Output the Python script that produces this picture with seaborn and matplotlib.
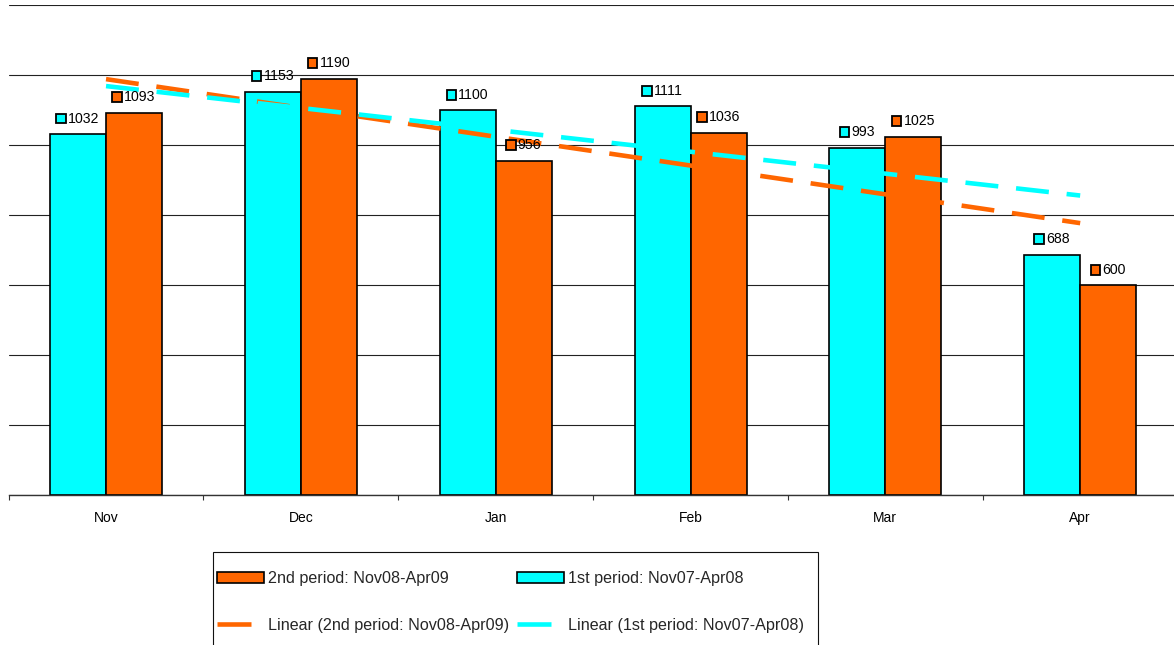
import numpy as np
import pandas as pd
import matplotlib
matplotlib.use("Agg")
import matplotlib.pyplot as plt
from matplotlib.lines import Line2D
from matplotlib.patches import Rectangle
from matplotlib.offsetbox import AnnotationBbox, DrawingArea, HPacker, TextArea
from matplotlib.ticker import FixedLocator
import seaborn as sns

# Monthly totals for the two winter periods
months = ["Nov", "Dec", "Jan", "Feb", "Mar", "Apr"]
first_period = [1032, 1153, 1100, 1111, 993, 688]
second_period = [1093, 1190, 956, 1036, 1025, 600]
first_label = "1st period: Nov07-Apr08"
second_label = "2nd period: Nov08-Apr09"
y_ticks = [0, 200, 400, 600, 800, 1000, 1200, 1400]

CYAN = "#00FFFF"
ORANGE = "#FF6600"
TREND_LW = 3.3

sns.set_theme(style="white")
plt.rcParams["font.family"] = ["Liberation Sans", "DejaVu Sans"]

df = pd.DataFrame({
    "month": months * 2,
    "value": first_period + second_period,
    "period": [first_label] * len(months) + [second_label] * len(months),
})

W, H = 1174, 645
fig = plt.figure(figsize=(W / 100, H / 100), dpi=100)
ax = fig.add_axes([8.6 / W, 1 - 495.3 / H, 1169 / W, 490 / H])

sns.barplot(
    data=df, x="month", y="value", hue="period",
    order=months, hue_order=[first_label, second_label],
    palette=[CYAN, ORANGE], saturation=1, width=0.575,
    edgecolor="black", linewidth=1.2, errorbar=None,
    legend=False, ax=ax, zorder=2,
)
bars_first, bars_second = ax.containers[0], ax.containers[1]

# Linear trend lines across the month positions
pos = np.arange(len(months))
for vals, color in [(second_period, ORANGE), (first_period, CYAN)]:
    sns.regplot(
        x=pos, y=vals, ax=ax, scatter=False, ci=None, truncate=True,
        line_kws=dict(color=color, lw=TREND_LW, dashes=(7.2, 3.9), zorder=3),
    )

ax.set_xlim(-0.5, len(months) - 0.5)
ax.set_ylim(y_ticks[0], y_ticks[-1])
ax.set_xlabel("")
ax.set_ylabel("")

# Category labels centred, tick marks on the category boundaries
ax.set_xticks(pos)
ax.set_xticklabels(months)
ax.xaxis.set_minor_locator(FixedLocator(np.arange(-0.5, len(months), 1.0)))
ax.tick_params(axis="x", which="major", length=0, pad=11, labelsize=10, labelcolor="black")
ax.tick_params(axis="x", which="minor", bottom=True, length=3.6, width=0.8,
               color="#333333", direction="out")
ax.set_yticks(y_ticks)
ax.set_yticklabels([])
ax.tick_params(axis="y", length=0)
ax.yaxis.grid(True, color="#222222", lw=0.8)
ax.set_axisbelow(True)
for side in ["left", "right", "top"]:
    ax.spines[side].set_visible(False)
ax.spines["bottom"].set_color("#333333")
ax.spines["bottom"].set_linewidth(1.0)

# Value labels with a small colour key in front of each number
for container in ax.containers:
    face = container.patches[0].get_facecolor()
    for bar in container:
        x = bar.get_x() + bar.get_width() / 2
        h = bar.get_height()
        key = DrawingArea(7, 7, 0, 0)
        key.add_artist(Rectangle((0, 0), 7, 7, facecolor=face, edgecolor="black", lw=1.3))
        txt = TextArea(f"{h:.0f}", textprops=dict(fontsize=10.2, color="black"))
        pack = HPacker(children=[key, txt], align="center", pad=0, sep=1.5)
        ab = AnnotationBbox(pack, (x, h), xybox=(0, 11.2), xycoords="data",
                            boxcoords="offset points", frameon=False,
                            box_alignment=(0.5, 0.5), zorder=4)
        ax.add_artist(ab)

# Legend below the plot; trend keys are short single dashes
def trend_key(color):
    return Line2D([], [], color=color, lw=TREND_LW, dashes=(34 * 0.72 / TREND_LW, 20))

handles = [bars_second.patches[0], trend_key(ORANGE),
           bars_first.patches[0], trend_key(CYAN)]
labels = [second_label, f"Linear ({second_label})",
          first_label, f"Linear ({first_label})"]
fig.legend(handles, labels, loc="upper left",
           bbox_to_anchor=(217 / W, 1 - 571 / H), ncol=2, frameon=False,
           fontsize=11.6, handlelength=2.92, handleheight=0.62,
           handletextpad=0.25, columnspacing=0.5, labelspacing=1.98,
           borderpad=0, borderaxespad=0)
fig.add_artist(Rectangle((213 / W, -0.1), (818 - 213) / W, 1 - 552 / H + 0.1,
                         transform=fig.transFigure, fill=False,
                         edgecolor="#111111", lw=0.8, clip_on=False))

fig.savefig("out.png", dpi=100)
